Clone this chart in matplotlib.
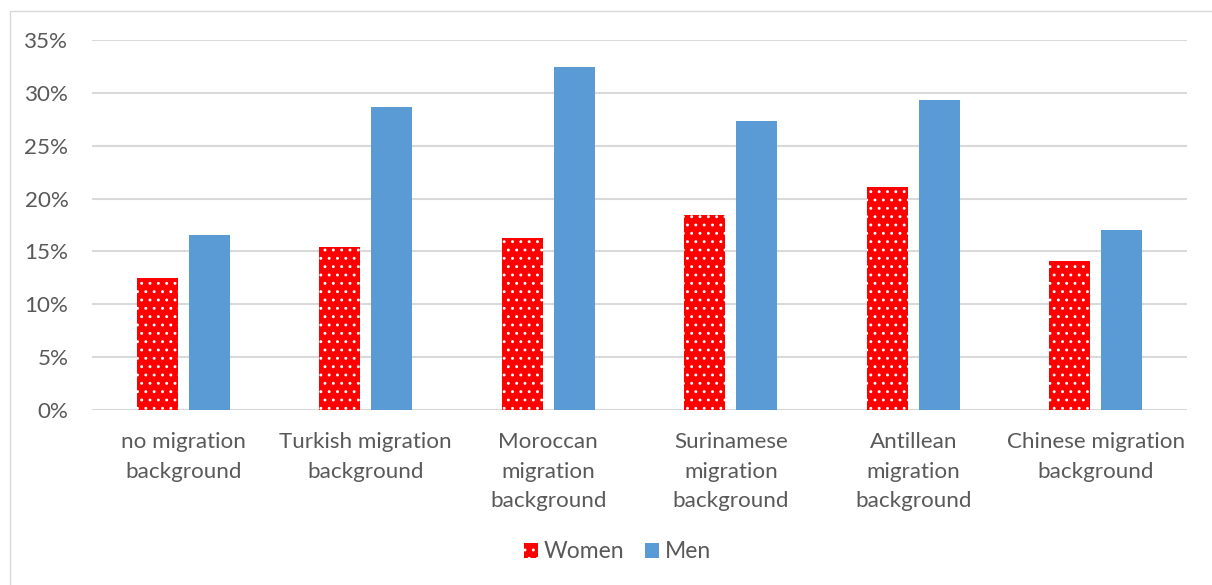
import matplotlib
matplotlib.use("Agg")
import matplotlib.pyplot as plt
import numpy as np
from matplotlib.patches import Rectangle, Patch
from matplotlib.ticker import PercentFormatter

categories = ["no migration\nbackground", "Turkish migration\nbackground", "Moroccan\nmigration\nbackground",
              "Surinamese\nmigration\nbackground", "Antillean\nmigration\nbackground", "Chinese migration\nbackground"]
women = [12.5, 15.4, 16.3, 18.4, 21.1, 14.1]
men = [16.6, 28.7, 32.4, 27.3, 29.3, 17.0]
yticks = [0, 5, 10, 15, 20, 25, 30, 35]

plt.rcParams['font.family'] = ['Lato', 'DejaVu Sans']
plt.rcParams['hatch.linewidth'] = 0.9
textc = '#595959'

fig = plt.figure(figsize=(12.12, 5.85), dpi=100)
fig.patches.append(Rectangle((10/1212, -0.1), 1.2, 1 - 11/585 + 0.1, transform=fig.transFigure,
                             fill=False, edgecolor='#d9d9d9', linewidth=1.0))
ax = fig.add_axes([92/1212, 1 - 410/585, (1187 - 92)/1212, 370/585])

x = np.arange(len(categories))
w = 0.225
off = 0.1425
ax.bar(x - off, women, w, color='#ff0000', edgecolor='white', linewidth=0, hatch='..', zorder=3, label='Women')
ax.bar(x + off, men, w, color='#5b9bd5', linewidth=0, zorder=3, label='Men')

ax.set_xlim(-0.5, len(categories) - 0.5)
ax.set_ylim(0, 35)
ax.set_yticks(yticks)
ax.yaxis.set_major_formatter(PercentFormatter(decimals=0))
ax.set_xticks(x)
ax.set_xticklabels(categories, fontsize=16.1, color=textc, linespacing=1.6)
ax.tick_params(axis='y', labelsize=16.1, labelcolor=textc, length=0, pad=17)
ax.tick_params(axis='x', length=0, pad=16)
for s in ax.spines.values():
    s.set_visible(False)
ax.grid(axis='y', color='#d9d9d9', linewidth=1.5, zorder=0)
ax.set_axisbelow(True)

handles = [Patch(facecolor='#ff0000', edgecolor='white', linewidth=0, hatch='..', label='Women'),
           Patch(facecolor='#5b9bd5', linewidth=0, label='Men')]
fig.legend(handles=handles, loc='center', bbox_to_anchor=(617.5/1212, 1 - 552/585), ncol=2, frameon=False,
           fontsize=16.5, labelcolor=textc, handlelength=0.61, handleheight=0.61, handletextpad=0.26,
           columnspacing=0.87, borderpad=0, borderaxespad=0)

fig.savefig('out.png', dpi=100)
